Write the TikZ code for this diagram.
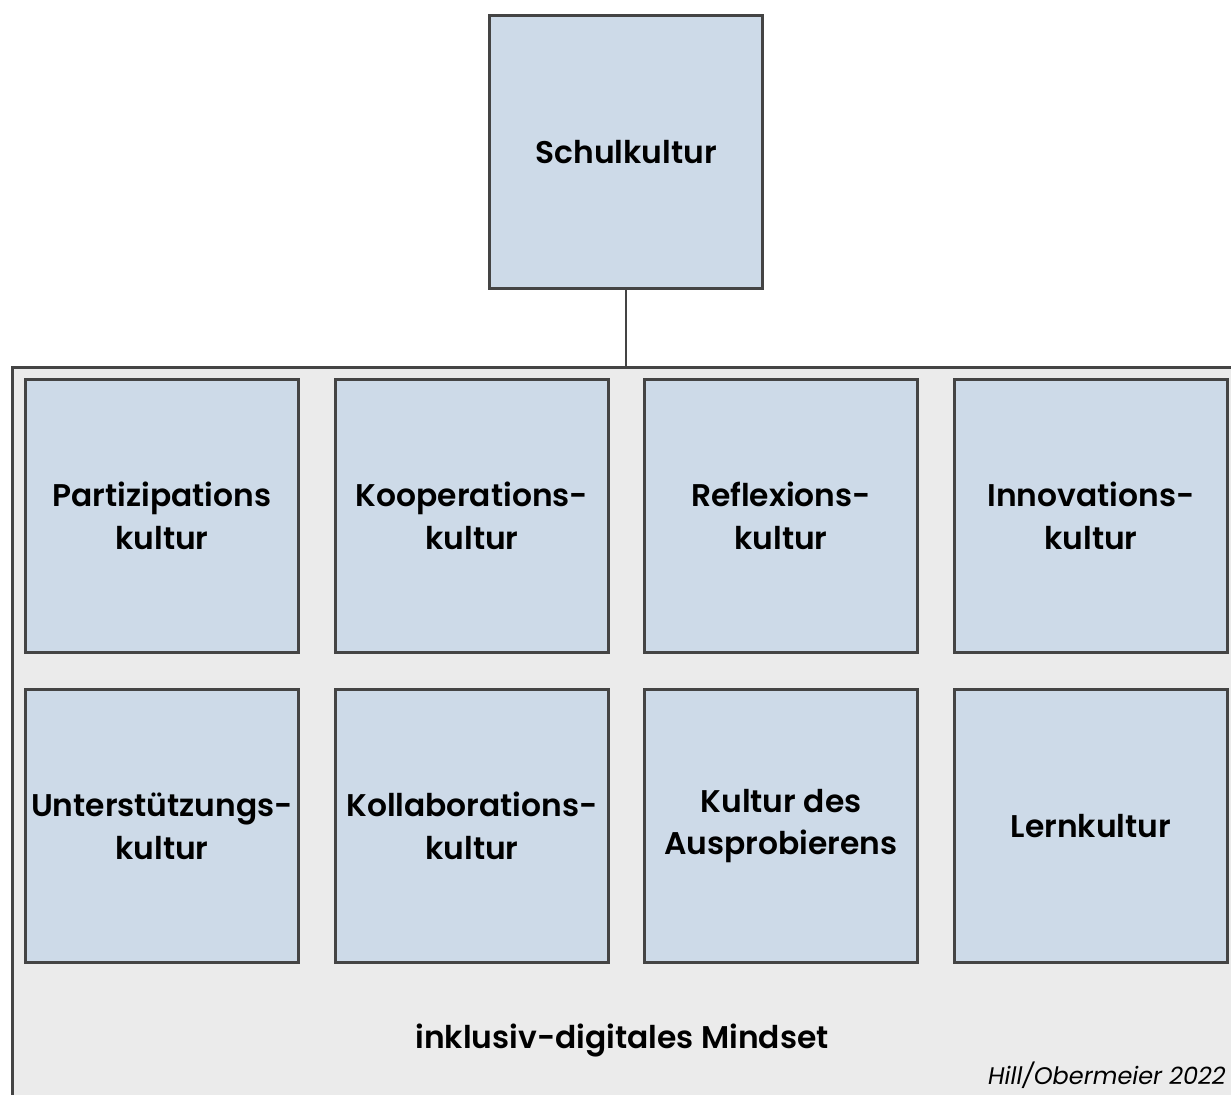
\documentclass[tikz,border=0pt]{standalone}
\usepackage{fontspec}
\setmainfont{Poppins}[BoldFont={Poppins SemiBold}]
\usepackage{tikz}
\usetikzlibrary{positioning}

\definecolor{boxblue}{HTML}{CDDAE8}
\definecolor{mindgray}{HTML}{EBEBEB}
\definecolor{linegray}{HTML}{444444}

\tikzset{
  kultur/.style={draw=linegray, line width=2.25pt, fill=boxblue,
                 minimum width=205pt, minimum height=205pt, inner sep=0pt,
                 align=center, font=\fontsize{23.5}{32}\selectfont\bfseries},
}

\begin{document}
\begin{tikzpicture}[x=0.75pt, y=-0.75pt]
\clip (0,0) rectangle (1231,1095);
\useasboundingbox (0,0) rectangle (1231,1095);

% outer frame
\node[draw=linegray, line width=2.25pt, fill=mindgray, anchor=north west,
      minimum width=1000pt, minimum height=600pt, inner sep=0pt] (mindset) at (11,366) {};

\node[kultur] (schule) at (626,152) {Schulkultur};
\draw[draw=linegray, line width=1.5pt] (schule.south) -- (schule.south |- mindset.north);

% first row
\node[kultur] (partizipation) at (162,516) {Partizipations\\kultur};
\node[kultur] (kooperation) at (472,516) {Kooperations-\\kultur};
\node[kultur] (reflexion) at (781,516) {Reflexions-\\kultur};
\node[kultur] (innovation) at (1091,516) {Innovations-\\kultur};

% second row
\node[kultur] (unterstuetzung) at (162,826) {Unterstützungs-\\kultur};
\node[kultur] (kollaboration) at (472,826) {Kollaborations-\\kultur};
\node[kultur] (ausprobieren) at (781,826) {Kultur des\\Ausprobierens};
\node[kultur] (lernen) at (1091,826) {Lernkultur};

\node[font=\fontsize{23.5}{28}\selectfont\bfseries] (mindtext) at (622,1040) {inklusiv-digitales Mindset};
\node[font=\fontsize{18}{22}\selectfont\itshape, anchor=base east, inner sep=0pt] (quelle) at (1226,1084) {Hill/Obermeier 2022};
\end{tikzpicture}
\end{document}
